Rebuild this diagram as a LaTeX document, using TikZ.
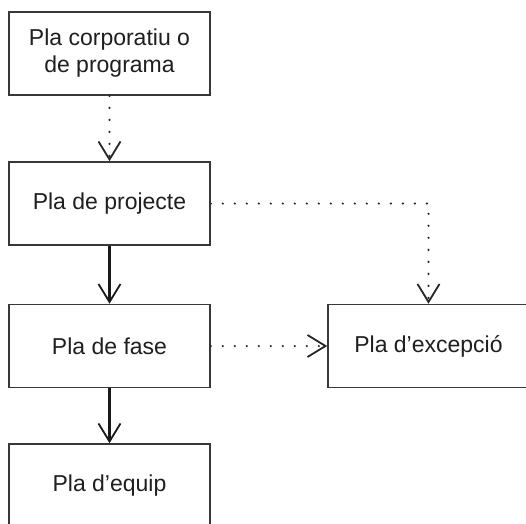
\documentclass[tikz,border=0pt]{standalone}
\usepackage{fontspec}
\setmainfont{Liberation Sans}
\usetikzlibrary{arrows.meta}
\begin{document}
\begin{tikzpicture}[x=1pt,y=-1pt,
  planbox/.style={draw=black!78, line width=1.6pt, minimum width=201pt, minimum height=83pt,
    inner sep=0pt, align=center, font=\fontsize{23}{27}\selectfont, text=black!88},
  solidlink/.style={draw=black!90, line width=2.2pt,
    -{Straight Barb[length=18pt,width=22pt,line width=1.8pt]}},
  dotlink/.style={draw=black!85, line width=2.4pt, line cap=round, dash pattern=on 0pt off 12pt,
    -{Straight Barb[length=18pt,width=22pt,line width=1.8pt,line cap=butt]}}]
\useasboundingbox (0,0) rectangle (526,523);
\fill[white] (0,0) rectangle (526,523);
\clip (0,0) rectangle (526,523);
\node[planbox] (corp) at (109.5,53.5) {Pla corporatiu o\\de programa};
\node[planbox] (proj) at (109.5,203.5) {Pla de projecte};
\node[planbox] (fase) at (109.5,346) {Pla de fase};
\node[planbox] (exc) at (428.5,346) {Pla d’excepció};
\node[planbox] (equip) at (109.5,485.5) {Pla d’equip};
\coordinate (turn) at (exc.north |- proj.east);
\draw[dotlink] (corp.south) -- (proj.north);
\draw[solidlink] (proj.south) -- (fase.north);
\draw[solidlink] (fase.south) -- (equip.north);
\draw[dotlink] (proj.east) -- (turn) -- (exc.north);
\draw[dotlink] (fase.east) -- (exc.west);
\end{tikzpicture}
\end{document}
